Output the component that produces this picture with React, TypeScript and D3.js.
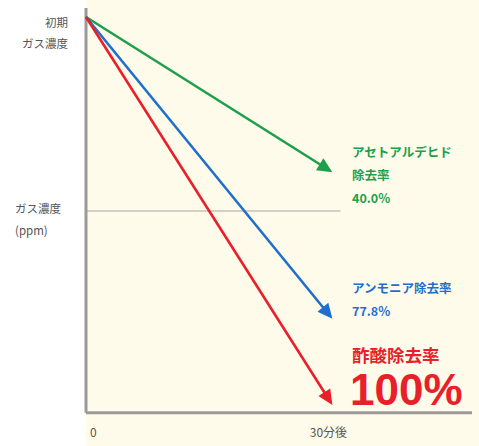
import * as d3 from 'd3';

// remaining gas concentration (% of initial) at 0 and 30 min
const times = [0, 30];
const series = [
  { key: 'acet', name: ['アセトアルデヒド', '除去率'], rate: '40.0%', values: [100, 60], color: '#1ca04c' },
  { key: 'nh3', name: ['アンモニア除去率'], rate: '77.8%', values: [100, 22.2], color: '#1f6fce' },
  { key: 'acid', name: ['酢酸除去率'], rate: '100%', values: [100, 0], color: '#e8202a' },
];
const xTickLabels = ['0', '30分後'];
const refLevel = 50;

const W = 479;
const H = 446;
const FONT = '"Noto Sans CJK JP", "Noto Sans", sans-serif';

export default function App() {
  const x = d3.scaleLinear().domain([0, 47]).range([86, 472]);
  const y = d3.scaleLinear().domain([0, 100]).range([405, 17]);
  const axisY = y(-2);
  const line = d3.line<[number, number]>();

  // line stops at arrow base, head is a filled triangle ending at the data point
  const arrow = (vals: number[]) => {
    const x0 = x(times[0]), y0 = y(vals[0]);
    const x1 = x(times[1]), y1 = y(vals[1]);
    const a = Math.atan2(y1 - y0, x1 - x0);
    const len = 15, half = 7;
    const bx = x1 - len * Math.cos(a), by = y1 - len * Math.sin(a);
    const head: [number, number][] = [
      [x1, y1],
      [bx + half * Math.sin(a), by - half * Math.cos(a)],
      [bx - half * Math.sin(a), by + half * Math.cos(a)],
    ];
    const shaft: [number, number][] = [[x0, y0], [bx + 2 * Math.cos(a), by + 2 * Math.sin(a)]];
    return { shaft: line(shaft) || '', head: (line(head) || '') + 'Z' };
  };

  return (
    <svg width={W} height={H} style={{ position: 'absolute', left: 0, top: 0 }}>
      <rect x={0} y={0} width={W} height={H} fill="#ffffff" />
      <rect x={x(0)} y={0} width={W - x(0)} height={H} fill="#fffbea" />

      {/* reference level */}
      <line x1={x(0)} x2={x(31)} y1={y(refLevel)} y2={y(refLevel)} stroke="#d2d0c8" strokeWidth={2} />

      {/* axes */}
      <line x1={x(0)} x2={x(0)} y1={8} y2={axisY} stroke="#9a9a98" strokeWidth={3} />
      <line x1={x(0)} x2={x(47)} y1={axisY} y2={axisY} stroke="#9a9a98" strokeWidth={3} />

      {series.map(s => {
        const a = arrow(s.values);
        return (
          <g key={s.key}>
            <path d={a.shaft} stroke={s.color} strokeWidth={2.6} fill="none" />
            <path d={a.head} fill={s.color} />
          </g>
        );
      })}

      {/* y labels */}
      <g fontFamily={FONT} fontSize={11.5} fill="#555" textAnchor="end">
        <text x={68} y={27}>初期</text>
        <text x={68} y={48}>ガス濃度</text>
      </g>
      <g fontFamily={FONT} fontSize={11.5} fill="#555">
        <text x={15} y={213}>ガス濃度</text>
        <text x={15} y={235}>(ppm)</text>
      </g>

      {/* x labels */}
      <g fontFamily={FONT} fontSize={12} fill="#555">
        <text x={x(times[0]) + 4} y={437}>{xTickLabels[0]}</text>
        <text x={x(times[1]) - 4} y={437} textAnchor="middle">{xTickLabels[1]}</text>
      </g>

      {/* series labels */}
      <g fontFamily={FONT} fontWeight="bold" fontSize={12.5} fill={series[0].color}>
        <text x={352} y={157}>{series[0].name[0]}</text>
        <text x={352} y={180}>{series[0].name[1]}</text>
        <text x={352} y={203}>{series[0].rate}</text>
      </g>
      <g fontFamily={FONT} fontWeight="bold" fontSize={12.5} fill={series[1].color}>
        <text x={352} y={293}>{series[1].name[0]}</text>
        <text x={352} y={316}>{series[1].rate}</text>
      </g>
      <g fontFamily={FONT} fontWeight="bold" fill={series[2].color}>
        <text x={352} y={362} fontSize={17.5}>{series[2].name[0]}</text>
        <text x={350} y={405} fontSize={44} fontFamily='"Liberation Sans", Arial, sans-serif'>{series[2].rate}</text>
      </g>
    </svg>
  );
}
